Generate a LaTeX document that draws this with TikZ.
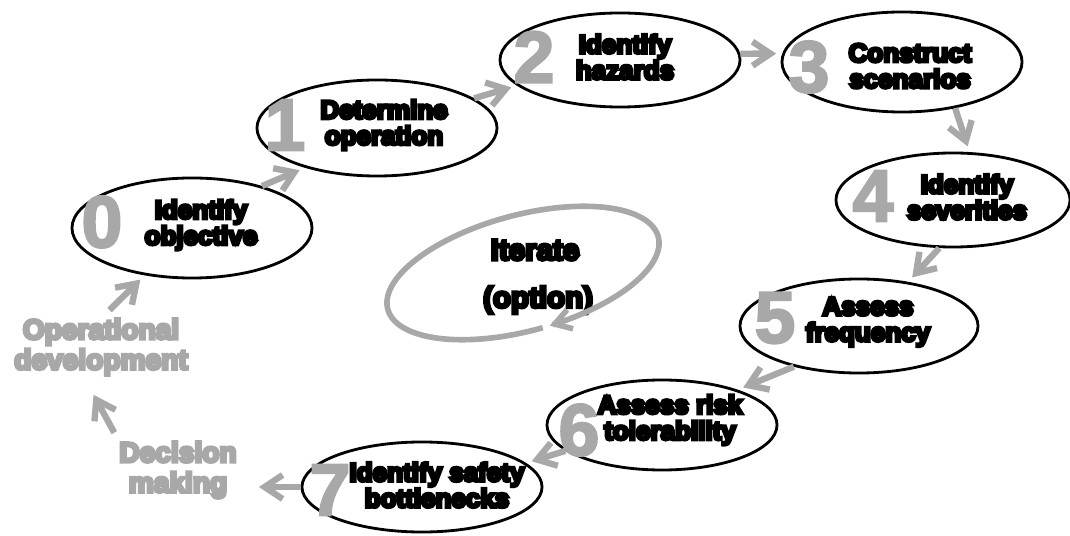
\documentclass[tikz,border=0pt]{standalone}
\usepackage{fontspec}
\newfontfamily\heavy{Liberation Sans Bold}
\newcommand\hv[2]{\special{pdf:literal direct 2 Tr #1 w}#2\special{pdf:literal direct 0 Tr}}
\usetikzlibrary{shapes.geometric,arrows.meta}
\definecolor{lgrey}{HTML}{A8A8A8}
\tikzset{
  ell/.style={draw=black, line width=2pt, ellipse, inner sep=0pt},
  digit/.style={text=lgrey, font=\heavy\fontsize{52}{52}\selectfont, inner sep=0pt},
  lbl/.style={text=black, font=\heavy\fontsize{18.5}{18.5}\selectfont, align=center, inner sep=0pt},
  glbl/.style={text=lgrey, font=\heavy\fontsize{20}{21.5}\selectfont, align=center, inner sep=0pt},
  ilbl/.style={text=black, font=\heavy\fontsize{21}{22}\selectfont, inner sep=0pt},
  arr/.style={draw=lgrey, line width=4.5pt, -{Straight Barb[length=0.45cm,width=0.6cm]}, shorten >=0.15cm},
  iter/.style={draw=lgrey, line width=4pt, -{Straight Barb[length=0.4cm,width=0.5cm]}}
}
\begin{document}
\begin{tikzpicture}[x=0.025cm, y=-0.025cm]
\useasboundingbox (0,0) rectangle (1070,536);

% ellipses
\node[ell, minimum width=6cm,   minimum height=2.5cm]  (e0) at (192,228) {};
\node[ell, minimum width=6cm,   minimum height=2.4cm]  (e1) at (377,128) {};
\node[ell, minimum width=6cm,   minimum height=2.35cm] (e2) at (620,60)  {};
\node[ell, minimum width=6cm,   minimum height=2.5cm]  (e3) at (902,62)  {};
\node[ell, minimum width=5.85cm,minimum height=2.35cm] (e4) at (953,200) {};
\node[ell, minimum width=5.95cm,minimum height=2.35cm] (e5) at (859,326) {};
\node[ell, minimum width=5.75cm,minimum height=2.25cm] (e6) at (662,425) {};
\node[ell, minimum width=6cm,   minimum height=2.25cm] (e7) at (422,487) {};

% digits
\node[digit] (d0) at (102,222) {\hv{1.6}{0}};
\node[digit] (d1) at (285,125) {\hv{1.6}{1}};
\node[digit] (d2) at (534,57)  {\hv{1.6}{2}};
\node[digit] (d3) at (809,67)  {\hv{1.6}{3}};
\node[digit] (d4) at (873,196) {\hv{1.6}{4}};
\node[digit] (d5) at (775,318) {\hv{1.6}{5}};
\node[digit] (d6) at (579,430) {\hv{1.6}{6}};
\node[digit] (d7) at (330,490) {\hv{1.6}{7}};

% labels
\node[lbl] (t0) at (201,225) {\hv{2.2}{Identify\\objective}};
\node[lbl] (t1) at (384,125) {\hv{2.2}{Determine\\operation}};
\node[lbl] (t2) at (625,57)  {\hv{2.2}{Identify\\hazards}};
\node[lbl] (t3) at (910,66)  {\hv{2.2}{Construct\\scenarios}};
\node[lbl] (t4) at (967,197) {\hv{2.2}{Identify\\severities}};
\node[lbl] (t5) at (868,322) {\hv{2.2}{Assess\\frequency}};
\node[lbl] (t6) at (670,420) {\hv{2.2}{Assess risk\\tolerability}};
\node[lbl] (t7) at (437,485) {\hv{2.2}{Identify safety\\bottlenecks}};

% grey labels
\node[glbl] (op)  at (101,347) {\hv{2.2}{Operational\\development}};
\node[glbl] (dec) at (178,470) {\hv{2.2}{Decision\\making}};

% iterate
\node[ilbl] (it1) at (535,250) {\hv{2.2}{Iterate}};
\node[ilbl] (it2) at (538,300) {\hv{2.2}{(option)}};
\draw[iter] plot[domain=88:445, samples=150, smooth]
  ({523 + 140*cos(\x)*cos(-15) - 58*sin(\x)*sin(-15)},
   {273 + 140*cos(\x)*sin(-15) + 58*sin(\x)*cos(-15)});

% arrows
\draw[arr] (e0.31)  -- (e1.209);
\draw[arr] (e1.17)  -- (e2.194);
\draw[arr] (e2.3)   -- (e3.176);
\draw[arr] (e3.-41) -- (e4.71);
\draw[arr] (e4.254) -- (e5.42);
\draw[arr] (e5.212) -- (e6.25);
\draw[arr] (e6.195) -- (e7.13);
\draw[arr, shorten >=0.55cm] (e7.180) -- (e7.180 -| dec.east);
\draw[arr, shorten <=0.25cm, shorten >=0.55cm] (dec.north west) -- ([xshift=-0.45cm]op.south);
\draw[arr, shorten <=0.3cm] (op.north) -- (e0.225);
\end{tikzpicture}
\end{document}
